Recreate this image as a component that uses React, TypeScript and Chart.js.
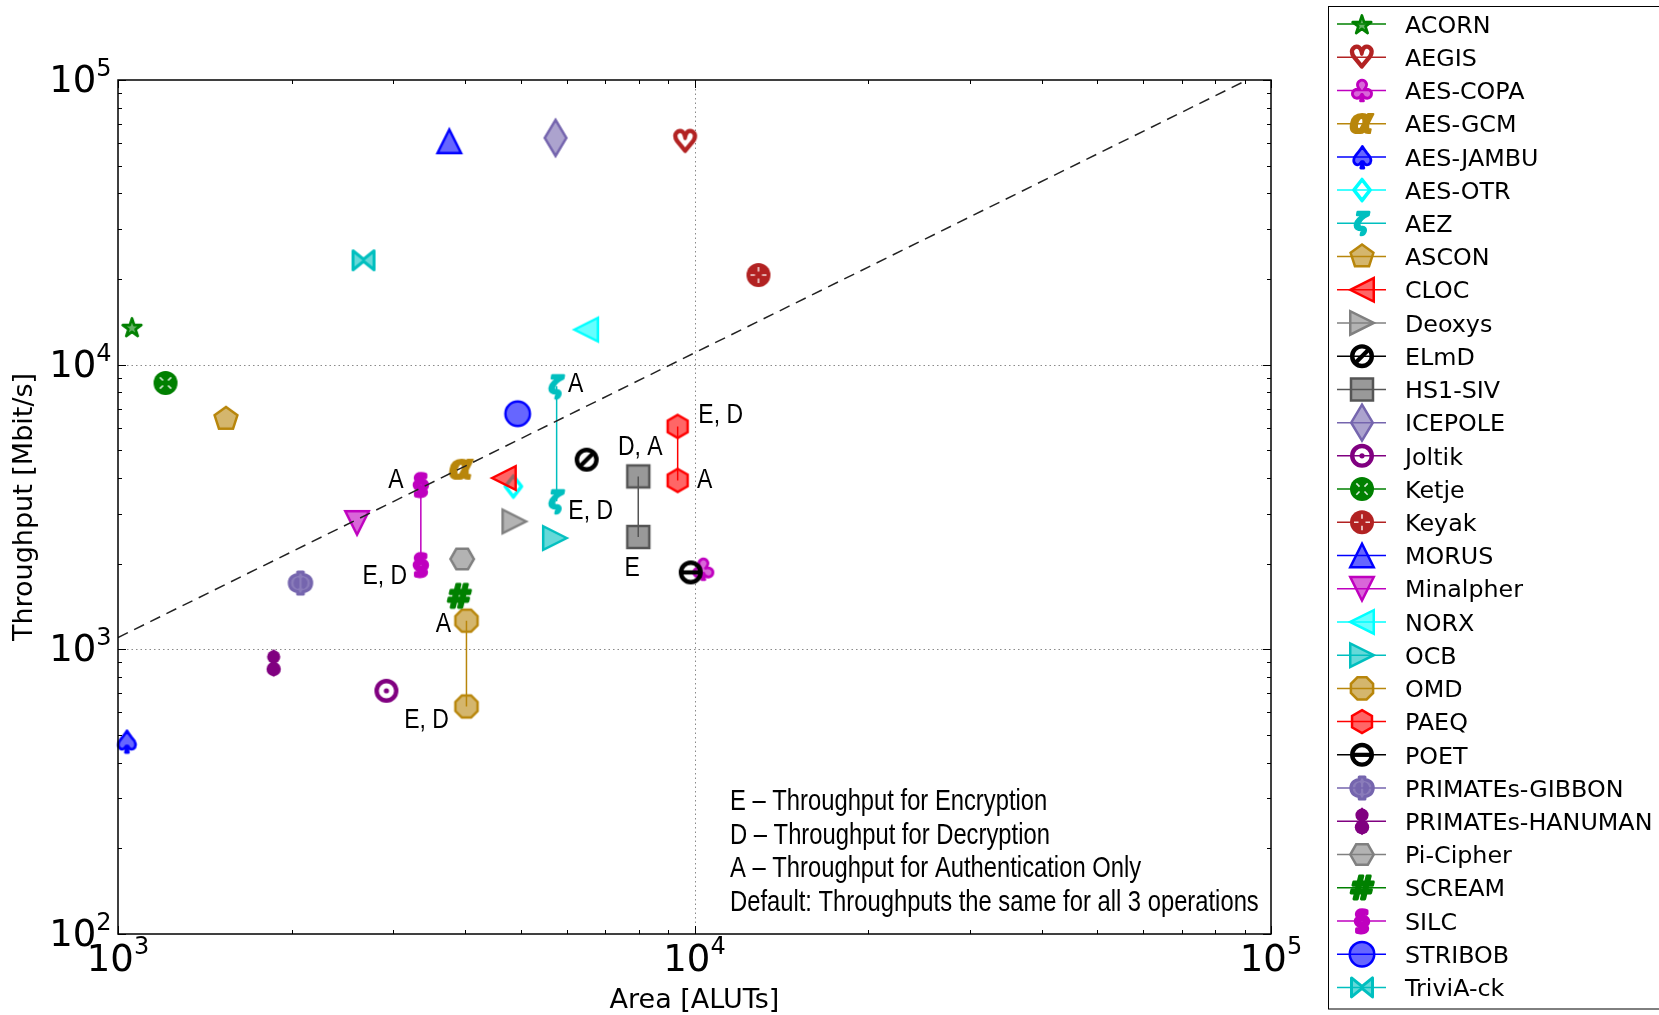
import React, { useEffect, useRef } from 'react';
import { Chart, registerables } from 'chart.js';

Chart.register(...registerables);

// ---------------- data ----------------
const schemes = [
  'ACORN', 'AEGIS', 'AES-COPA', 'AES-GCM', 'AES-JAMBU', 'AES-OTR', 'AEZ', 'ASCON', 'CLOC', 'Deoxys',
  'ELmD', 'HS1-SIV', 'ICEPOLE', 'Joltik', 'Ketje', 'Keyak', 'MORUS', 'Minalpher', 'NORX', 'OCB',
  'OMD', 'PAEQ', 'POET', 'PRIMATEs-GIBBON', 'PRIMATEs-HANUMAN', 'Pi-Cipher', 'SCREAM', 'SILC', 'STRIBOB', 'TriviA-ck',
];

// Area [ALUTs]
const areaALUTs = [
  1058, 9640, 10360, 3943, 1035, 4850, 5766, 1539, 4670, 4870,
  6500, 7988, 5741, 2921, 1209, 12910, 3755, 2598, 6487, 5726,
  4022, 9350, 9849, 2072, 1862, 3953, 3906, 3352, 4935, 2666,
];

// Throughput [Mbit/s] – first operating point
const throughputFirst = [
  13570, 60900, 1904, 4276, 475, 3736, 8390, 6447, 4000, 2814,
  4637, 4050, 62600, 715, 8625, 20650, 60900, 2780, 13280, 2460,
  1261, 6070, 1863, 1710, 895, 2077, 1535, 3788, 6726, 23260,
];

// Throughput [Mbit/s] – second operating point (null when all operations are equal)
const throughputSecond: (number | null)[] = [
  null, null, null, null, null, null, 3310, null, null, null,
  null, 2481, null, null, null, null, null, null, null, null,
  630, 3922, null, null, null, null, null, 1983, null, null,
];

const colors = [
  '#008000', '#B22222', '#BF00BF', '#B8860B', '#0000FF', '#00FFFF', '#00BFBF', '#B8860B', '#FF0000', '#808080',
  '#000000', '#555555', '#7565AE', '#800080', '#008000', '#B22222', '#0000FF', '#BF00BF', '#00FFFF', '#00BFBF',
  '#B8860B', '#FF0000', '#000000', '#7565AE', '#800080', '#808080', '#008000', '#BF00BF', '#0000FF', '#00BFBF',
];

const markerKinds = [
  'star', 'heart', 'club', 'alpha', 'spade', 'diamondsuit', 'zeta', 'pentagon', 'triLeft', 'triRight',
  'oslash', 'square', 'thinDiamond', 'odot', 'otimes', 'oplus', 'triUp', 'triDown', 'triLeft', 'triRight',
  'octagon', 'hexagon1', 'ominus', 'phi', 'eight', 'hexagon2', 'hash', 'section', 'circle', 'bowtie',
];

// reference (dashed) line end points
const refLineArea = [1000, 100000];
const refLineThroughput = [1100, 110000];

// point annotations
const pointLabelScheme = ['SILC', 'SILC', 'AEZ', 'AEZ', 'HS1-SIV', 'HS1-SIV', 'PAEQ', 'PAEQ', 'OMD', 'OMD'];
const pointLabelIndex = [0, 1, 0, 1, 0, 1, 0, 1, 0, 1];
const pointLabelText = ['A', 'E, D', 'A', 'E, D', 'D, A', 'E', 'E, D', 'A', 'A', 'E, D'];
const pointLabelOffsets = [[-25, -7], [-36, 9], [19, -4], [34, 8], [2, -31], [-6, 29], [43, -13], [27, -2], [-23, 1], [-40, 12]];

const noteLines = [
  'E \u2013 Throughput for Encryption',
  'D \u2013 Throughput for Decryption',
  'A \u2013 Throughput for Authentication Only',
  'Default: Throughputs the same for all 3 operations',
];

// ---------------- helpers ----------------
function rgba(hex: string, a: number) {
  const n = parseInt(hex.slice(1), 16);
  return `rgba(${(n >> 16) & 255},${(n >> 8) & 255},${n & 255},${a})`;
}

// glyph, font style, max size, stroke width, fill alpha
const GLYPHS: Record<string, [string, string, number, number, number]> = {
  star: ['\u2605', 'bold', 19, 2.6, 0.6],
  heart: ['\u2661', 'bold', 21, 3.6, 0.9],
  club: ['\u2663', 'bold', 21, 2.8, 0.6],
  alpha: ['\u03B1', 'italic bold', 23, 2.2, 1],
  spade: ['\u2660', 'bold', 21.5, 2.8, 0.6],
  diamondsuit: ['\u2662', 'bold', 22, 2.8, 0.6],
  zeta: ['\u03B6', 'italic bold', 23, 2.6, 1],
  phi: ['\u03A6', 'bold', 22.5, 3.2, 0.85],
  hash: ['#', 'italic bold', 22.5, 2.8, 1],
  section: ['\u00A7', 'bold', 22.5, 3.4, 1],
};

function drawMarker(ctx: CanvasRenderingContext2D, kind: string, color: string, cx: number, cy: number) {
  ctx.save();
  ctx.translate(cx, cy);
  ctx.strokeStyle = color;
  ctx.fillStyle = rgba(color, 0.6);
  ctx.lineWidth = 2.5;
  ctx.lineJoin = 'miter';
  ctx.setLineDash([]);
  const poly = (pts: number[][]) => {
    ctx.beginPath();
    pts.forEach(([x, y], i) => (i ? ctx.lineTo(x, y) : ctx.moveTo(x, y)));
    ctx.closePath();
    ctx.fill();
    ctx.stroke();
  };
  const reg = (n: number, r: number, startDeg: number) => {
    const pts: number[][] = [];
    for (let i = 0; i < n; i++) {
      const a = ((startDeg + (i * 360) / n) * Math.PI) / 180;
      pts.push([r * Math.cos(a), r * Math.sin(a)]);
    }
    return pts;
  };
  const h = 11.75;
  switch (kind) {
    case 'triUp': poly([[0, -h], [-h, h], [h, h]]); break;
    case 'triDown': poly([[0, h], [-h, -h], [h, -h]]); break;
    case 'triLeft': poly([[-h, 0], [h, -h], [h, h]]); break;
    case 'triRight': poly([[h, 0], [-h, -h], [-h, h]]); break;
    case 'square': poly([[-11, -11], [11, -11], [11, 11], [-11, 11]]); break;
    case 'thinDiamond': poly([[0, -18], [10.8, 0], [0, 18], [-10.8, 0]]); break;
    case 'pentagon': poly(reg(5, 12, -90)); break;
    case 'hexagon1': poly(reg(6, 11.5, -90)); break;
    case 'hexagon2': poly(reg(6, 11.7, 0)); break;
    case 'octagon': poly(reg(8, 12, 22.5)); break;
    case 'circle':
      ctx.beginPath(); ctx.arc(0, 0, 12.25, 0, Math.PI * 2); ctx.fill(); ctx.stroke(); break;
    case 'bowtie':
      ctx.lineJoin = 'round';
      ctx.lineWidth = 3;
      poly([[-10.5, -9.5], [0, -1], [10.5, -9.5], [10.5, 9.5], [0, 1], [-10.5, 9.5]]);
      break;
    case 'eight':
      ctx.fillStyle = color;
      ctx.beginPath(); ctx.arc(0, -6.2, 6.6, 0, Math.PI * 2); ctx.fill();
      ctx.beginPath(); ctx.arc(0, 6, 7.2, 0, Math.PI * 2); ctx.fill();
      ctx.beginPath(); ctx.moveTo(0, -14); ctx.lineTo(-3.5, -10); ctx.lineTo(3.5, -10); ctx.fill();
      ctx.beginPath(); ctx.moveTo(0, 14); ctx.lineTo(-3.5, 10); ctx.lineTo(3.5, 10); ctx.fill();
      break;
    case 'oplus':
    case 'otimes': {
      ctx.fillStyle = color;
      ctx.beginPath(); ctx.arc(0, 0, 12, 0, Math.PI * 2); ctx.fill();
      ctx.strokeStyle = 'rgba(255,255,255,0.85)';
      ctx.lineWidth = 1.6;
      if (kind === 'otimes') ctx.rotate(Math.PI / 4);
      ctx.beginPath();
      for (const [dx, dy] of [[1, 0], [-1, 0], [0, 1], [0, -1]]) {
        ctx.moveTo(dx * 3.5, dy * 3.5); ctx.lineTo(dx * 8, dy * 8);
      }
      ctx.stroke();
      break;
    }
    case 'oslash':
    case 'odot':
    case 'ominus': {
      ctx.lineWidth = 4.4;
      ctx.beginPath(); ctx.arc(0, 0, 9.8, 0, Math.PI * 2); ctx.stroke();
      ctx.fillStyle = color;
      if (kind === 'odot') {
        ctx.beginPath(); ctx.arc(0, 0, 2.6, 0, Math.PI * 2); ctx.fill();
      } else if (kind === 'ominus') {
        ctx.lineWidth = 4.2;
        ctx.beginPath(); ctx.moveTo(-9, 0); ctx.lineTo(9, 0); ctx.stroke();
      } else {
        ctx.lineWidth = 4.2;
        ctx.beginPath(); ctx.moveTo(-6.5, 6.5); ctx.lineTo(6.5, -6.5); ctx.stroke();
      }
      break;
    }
    default: {
      const g = GLYPHS[kind];
      if (!g) break;
      const [ch, style, size, lw, fa] = g;
      ctx.font = `${style} 100px "DejaVu Sans"`;
      const m = ctx.measureText(ch);
      const w = m.actualBoundingBoxLeft + m.actualBoundingBoxRight;
      const hh = m.actualBoundingBoxAscent + m.actualBoundingBoxDescent;
      const s = size / Math.max(w, hh);
      ctx.scale(s, s);
      ctx.fillStyle = rgba(color, fa);
      ctx.textAlign = 'left';
      ctx.textBaseline = 'alphabetic';
      ctx.lineWidth = lw / s;
      ctx.lineJoin = 'round';
      const tx = (m.actualBoundingBoxLeft - m.actualBoundingBoxRight) / 2;
      const ty = (m.actualBoundingBoxAscent - m.actualBoundingBoxDescent) / 2;
      ctx.fillText(ch, tx, ty);
      ctx.strokeText(ch, tx, ty);
    }
  }
  ctx.restore();
}

function makeMarkerImage(kind: string, color: string) {
  const c = document.createElement('canvas');
  c.width = 46;
  c.height = 46;
  const ctx = c.getContext('2d')!;
  drawMarker(ctx, kind, color, 23, 23);
  return c;
}

function narrowText(ctx: CanvasRenderingContext2D, text: string, x: number, y: number, size: number, align: string) {
  ctx.save();
  ctx.font = `${size}px "Liberation Sans", Arial, sans-serif`;
  const k = 0.82;
  const w = ctx.measureText(text).width * k;
  const x0 = align === 'center' ? x - w / 2 : align === 'right' ? x - w : x;
  ctx.translate(x0, y);
  ctx.scale(k, 1);
  ctx.textAlign = 'left';
  ctx.textBaseline = 'alphabetic';
  ctx.fillStyle = '#000';
  ctx.fillText(text, 0, 0);
  ctx.restore();
}

function logTicks(min: number, max: number) {
  const out: { v: number; major: boolean }[] = [];
  for (let e = Math.floor(Math.log10(min)); e <= Math.ceil(Math.log10(max)); e++) {
    for (let m = 1; m <= 9; m++) {
      const v = m * Math.pow(10, e);
      if (v >= min * 0.999 && v <= max * 1.001) out.push({ v, major: m === 1 });
    }
  }
  return out;
}

function drawPow(ctx: CanvasRenderingContext2D, exp: number, x: number, baseY: number, supY: number, align: string) {
  ctx.save();
  ctx.fillStyle = '#000';
  ctx.textBaseline = 'alphabetic';
  ctx.textAlign = 'left';
  ctx.font = '37px "DejaVu Sans"';
  const wb = ctx.measureText('10').width;
  ctx.font = '24px "DejaVu Sans"';
  const ws = ctx.measureText(String(exp)).width;
  const total = wb + ws;
  const x0 = align === 'center' ? x - total / 2 : x - total;
  ctx.font = '37px "DejaVu Sans"';
  ctx.fillText('10', x0, baseY);
  ctx.font = '24px "DejaVu Sans"';
  ctx.fillText(String(exp), x0 + wb, supY);
  ctx.restore();
}

const LEGEND = { left: 1328.5, top: 6.5, bottom: 1009, y0: 24, dy: 33.22, lineX0: 1337, lineX1: 1386, markX: 1362, textX: 1405 };
const NOTES = { x: 730, baselines: [810, 843.5, 877, 910.5] };

const decorPlugin = {
  id: 'decor',
  beforeDatasetsDraw(chart: any) {
    const { ctx, chartArea: a, scales } = chart;
    const xs = scales.x, ys = scales.y;
    ctx.save();
    ctx.strokeStyle = '#8a8a8a';
    ctx.lineWidth = 1;
    ctx.setLineDash([1.5, 3]);
    for (const t of logTicks(xs.min, xs.max)) {
      if (!t.major || t.v <= xs.min * 1.001 || t.v >= xs.max * 0.999) continue;
      const px = Math.round(xs.getPixelForValue(t.v)) + 0.5;
      ctx.beginPath(); ctx.moveTo(px, a.top); ctx.lineTo(px, a.bottom); ctx.stroke();
    }
    for (const t of logTicks(ys.min, ys.max)) {
      if (!t.major || t.v <= ys.min * 1.001 || t.v >= ys.max * 0.999) continue;
      const py = Math.round(ys.getPixelForValue(t.v)) + 0.5;
      ctx.beginPath(); ctx.moveTo(a.left, py); ctx.lineTo(a.right, py); ctx.stroke();
    }
    ctx.restore();
  },
  afterDatasetsDraw(chart: any) {
    const { ctx, chartArea: a, scales } = chart;
    const xs = scales.x, ys = scales.y;
    ctx.save();
    // frame
    ctx.strokeStyle = '#000';
    ctx.lineWidth = 1.5;
    ctx.setLineDash([]);
    ctx.strokeRect(a.left, a.top, a.right - a.left, a.bottom - a.top);
    // ticks
    ctx.lineWidth = 1;
    for (const t of logTicks(xs.min, xs.max)) {
      const px = Math.round(xs.getPixelForValue(t.v)) + 0.5;
      const len = t.major ? 8 : 4;
      ctx.beginPath();
      ctx.moveTo(px, a.bottom); ctx.lineTo(px, a.bottom - len);
      ctx.moveTo(px, a.top); ctx.lineTo(px, a.top + len);
      ctx.stroke();
      if (t.major) drawPow(ctx, Math.round(Math.log10(t.v)), xs.getPixelForValue(t.v), a.bottom + 37, a.bottom + 20, 'center');
    }
    for (const t of logTicks(ys.min, ys.max)) {
      const py = Math.round(ys.getPixelForValue(t.v)) + 0.5;
      const len = t.major ? 8 : 4;
      ctx.beginPath();
      ctx.moveTo(a.left, py); ctx.lineTo(a.left + len, py);
      ctx.moveTo(a.right, py); ctx.lineTo(a.right - len, py);
      ctx.stroke();
      if (t.major) {
        const y = ys.getPixelForValue(t.v);
        drawPow(ctx, Math.round(Math.log10(t.v)), a.left - 6.5, y + 12, y - 4, 'right');
      }
    }
    // point labels
    pointLabelText.forEach((txt, k) => {
      const di = schemes.indexOf(pointLabelScheme[k]);
      const el = chart.getDatasetMeta(di).data[pointLabelIndex[k]];
      if (!el) return;
      const [dx, dy] = pointLabelOffsets[k];
      narrowText(ctx, txt, el.x + dx, el.y + dy + 10, 28, 'center');
    });
    // notes
    noteLines.forEach((line, k) => narrowText(ctx, line, NOTES.x, NOTES.baselines[k], 29, 'left'));
    ctx.restore();
  },
  afterDraw(chart: any) {
    const { ctx } = chart;
    ctx.save();
    ctx.fillStyle = '#fff';
    ctx.fillRect(LEGEND.left, LEGEND.top, 400, LEGEND.bottom - LEGEND.top);
    ctx.strokeStyle = '#000';
    ctx.lineWidth = 1;
    ctx.strokeRect(LEGEND.left, LEGEND.top, 400, LEGEND.bottom - LEGEND.top);
    schemes.forEach((name, i) => {
      const y = LEGEND.y0 + i * LEGEND.dy;
      ctx.strokeStyle = colors[i];
      ctx.lineWidth = 1.5;
      ctx.beginPath();
      ctx.moveTo(LEGEND.lineX0, y); ctx.lineTo(LEGEND.lineX1, y);
      ctx.stroke();
      drawMarker(ctx, markerKinds[i], colors[i], LEGEND.markX, y);
      ctx.fillStyle = '#000';
      ctx.font = '23.8px "DejaVu Sans"';
      ctx.textAlign = 'left';
      ctx.textBaseline = 'alphabetic';
      ctx.fillText(name, LEGEND.textX, y + 8.7);
    });
    ctx.restore();
  },
};

export default function App() {
  const ref = useRef<HTMLCanvasElement>(null);
  useEffect(() => {
    const canvas = ref.current;
    if (!canvas) return;
    const images = schemes.map((_, i) => makeMarkerImage(markerKinds[i], colors[i]));
    const datasets: any[] = schemes.map((name, i) => {
      const pts: { x: number; y: number }[] = [{ x: areaALUTs[i], y: throughputFirst[i] }];
      const second = throughputSecond[i];
      if (second != null) pts.push({ x: areaALUTs[i], y: second });
      return {
        label: name,
        data: pts,
        showLine: pts.length > 1,
        borderColor: colors[i],
        backgroundColor: colors[i],
        borderWidth: 1.5,
        pointStyle: images[i],
        pointRadius: 12,
        pointHoverRadius: 12,
        order: schemes.length - i,
        clip: false,
      };
    });
    datasets.push({
      label: 'reference',
      data: refLineArea.map((x, k) => ({ x, y: refLineThroughput[k] })),
      showLine: true,
      borderColor: '#222',
      borderWidth: 1.5,
      borderDash: [11, 7],
      pointRadius: 0,
      order: -1,
    });
    const chart = new Chart(canvas, {
      type: 'scatter',
      data: { datasets },
      options: {
        responsive: false,
        animation: false,
        devicePixelRatio: 1,
        events: [],
        layout: { padding: { left: 0, top: 80, right: 388, bottom: 0 } },
        plugins: { legend: { display: false }, tooltip: { enabled: false } },
        scales: {
          x: {
            type: 'logarithmic',
            position: 'bottom',
            min: 1000,
            max: 100000,
            ticks: { display: false },
            grid: { display: false },
            border: { display: false },
            title: {
              display: true,
              text: 'Area [ALUTs]',
              color: '#000',
              font: { family: 'DejaVu Sans', size: 27 },
              padding: { top: 0, bottom: -2 },
            },
            afterFit: (s: any) => { s.height = 81; },
          },
          y: {
            type: 'logarithmic',
            position: 'left',
            min: 100,
            max: 100000,
            ticks: { display: false },
            grid: { display: false },
            border: { display: false },
            title: {
              display: true,
              text: 'Throughput [Mbit/s]',
              color: '#000',
              font: { family: 'DejaVu Sans', size: 27 },
              padding: { top: 9, bottom: 0 },
            },
            afterFit: (s: any) => { s.width = 118; },
          },
        },
      } as any,
      plugins: [decorPlugin],
    });
    return () => chart.destroy();
  }, []);
  return (
    <div style={{ position: 'absolute', left: 0, top: 0, width: 1659, height: 1015, background: '#fff' }}>
      <canvas ref={ref} width={1659} height={1015} style={{ display: 'block', width: 1659, height: 1015 }} />
    </div>
  );
}
